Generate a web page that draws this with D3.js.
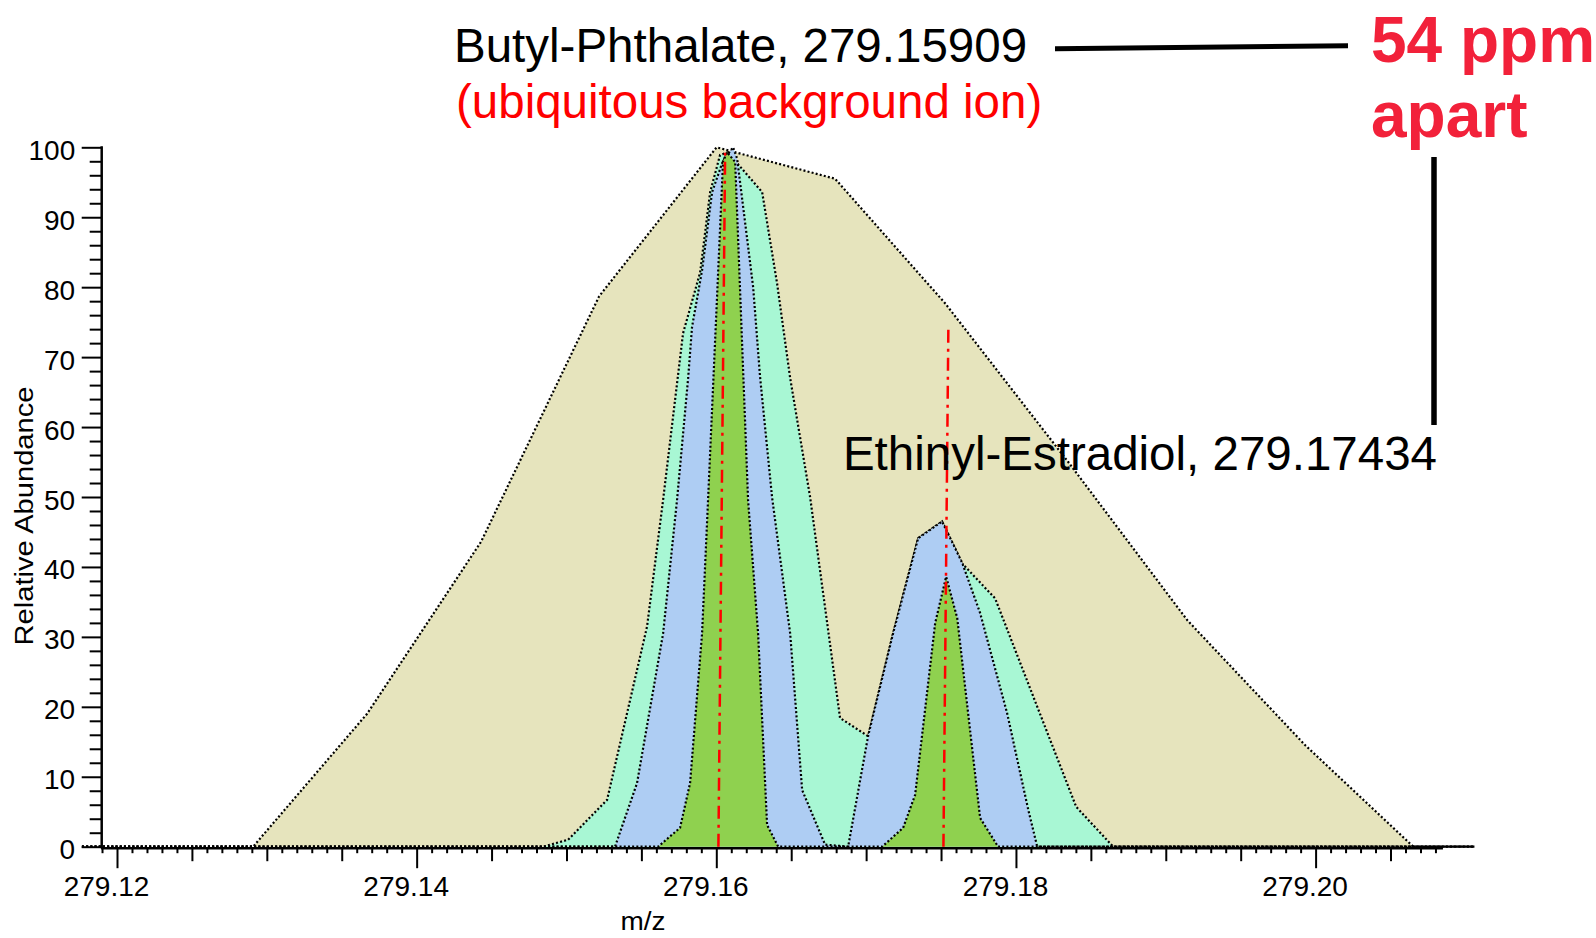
<!DOCTYPE html>
<html>
<head>
<meta charset="utf-8">
<script src="https://cdn.jsdelivr.net/npm/d3@7"></script>
<style>
body{margin:0;background:#fff;}
svg{display:block;font-family:"Liberation Sans",Arial,Helvetica,sans-serif;}
</style>
</head>
<body>
<div id="vis-container"></div>
<script>
// traces: m/z and relative abundance
khakiMz = [279.11766, 279.12908, 279.13669, 279.14430, 279.15218, 279.16002, 279.16793, 279.17527, 279.18349, 279.19143, 279.19931, 279.20652, 279.21059]
khakiAb = [0, 0, 19, 43.6, 78.7, 100, 95.5, 77.7, 55, 32.4, 14.5, 0, 0]

mintMz = [279.11766, 279.14844, 279.15011, 279.15271, 279.15538, 279.15645, 279.15778, 279.15892, 279.15959, 279.16025, 279.16079, 279.16112, 279.16306, 279.16406, 279.16493, 279.16626, 279.16826, 279.17013, 279.17180, 279.17347, 279.17507, 279.17641, 279.17861, 279.18402, 279.18649, 279.21059]
mintAb = [0, 0, 1, 6.7, 31.5, 49.6, 73.4, 82.1, 93.6, 98.9, 99.3, 98.4, 93.6, 80.5, 67, 50, 18.4, 15.8, 30.5, 44.1, 46.5, 40.5, 35.5, 5.7, 0, 0]

blueMz = [279.11766, 279.15324, 279.15471, 279.15645, 279.15738, 279.15812, 279.15838, 279.15905, 279.15972, 279.16045, 279.16112, 279.16139, 279.16246, 279.16292, 279.16372, 279.16493, 279.16573, 279.16726, 279.16880, 279.17013, 279.17180, 279.17347, 279.17507, 279.17641, 279.17761, 279.17941, 279.18082, 279.18142, 279.21059]
blueAb = [0, 0, 9.1, 30.5, 49.6, 67, 74.3, 82.4, 93.6, 98.1, 100, 98.4, 80, 67.2, 50, 30.5, 8.1, 0.3, 0, 15.8, 30.5, 44.1, 46.5, 40.6, 33.4, 19.1, 5.3, 0, 0]

greenMz = [279.11766, 279.15612, 279.15758, 279.15825, 279.15905, 279.15945, 279.16045, 279.16072, 279.16126, 279.16212, 279.16279, 279.16339, 279.16413, 279.17107, 279.17247, 279.17327, 279.17461, 279.17534, 279.17608, 279.17761, 279.17881, 279.21059]
greenAb = [0, 0, 2.7, 9.1, 30.5, 49.6, 98, 99.3, 97.9, 49.6, 30.5, 3.1, 0, 0, 2.7, 7.4, 32, 38.6, 32.7, 4.1, 0, 0]

seriesColors = ["#e6e4bd", "#a8f7d4", "#aecdf3", "#8fd14f"]

// red dash-dot markers (m/z at foot, m/z at top, top abundance)
markerBaseMz = [279.16014, 279.17516]
markerTopMz = [279.16059, 279.17549]
markerTop = [99.5, 74.5]

xMajorTicks = [279.12, 279.14, 279.16, 279.18, 279.20]
xTickLabels = ["279.12", "279.14", "279.16", "279.18", "279.20"]
yMajorTicks = [0, 10, 20, 30, 40, 50, 60, 70, 80, 90, 100]

chart = {
  "width": 1596,
  "height": 938,
  "scale": {
    "x": d3.scaleLinear().domain([279.12, 279.20]).range([117, 1315.6]),
    "y": d3.scaleLinear().domain([0, 100]).range([846.7, 147.3])
  }
}

function drawAxes(svg){
  let x = chart.scale.x, y = chart.scale.y;
  let xMedium = d3.range(119, 209).filter(i => i % 5 == 0 && i % 20 != 0).map(i => 279 + i / 1000);
  let xMinor = d3.range(119, 209).filter(i => i % 5 != 0).map(i => 279 + i / 1000);
  let axisY = y(0) + 1.5;

  let g = svg.append("g").attr("id", "x-axis").attr("transform", "translate(0," + axisY + ")");
  g.append("g").call(d3.axisBottom(x).tickValues(xMinor).tickSize(5).tickFormat(""));
  g.append("g").call(d3.axisBottom(x).tickValues(xMedium).tickSize(13).tickFormat(""));
  g.append("g").attr("class", "x-major").call(d3.axisBottom(x).tickValues(xMajorTicks).tickSize(20).tickFormat((d, i) => xTickLabels[i]));
  g.selectAll(".domain").remove();
  g.selectAll("line").attr("stroke", "#000").attr("stroke-width", 2);
  g.selectAll("text").attr("y", 48).attr("dy", 0).attr("dx", -11)
    .style("font-size", "28px").attr("fill", "#000").style("font-family", null);
  g.append("line").attr("x1", x(279.119) - 1).attr("x2", x(279.2085)).attr("y1", 0).attr("y2", 0)
    .attr("stroke", "#000").attr("stroke-width", 2.5);

  let minorY = d3.range(0, 101, 2).filter(v => v % 10 != 0);
  let gy = svg.append("g").attr("id", "y-axis").attr("transform", "translate(101.7,0)");
  gy.append("g").call(d3.axisLeft(y).tickValues(minorY).tickSize(12).tickFormat(""));
  gy.append("g").call(d3.axisLeft(y).tickValues(yMajorTicks).tickSize(20).tickFormat(d3.format("d")));
  gy.selectAll(".domain").remove();
  gy.selectAll("line").attr("stroke", "#000").attr("stroke-width", 2);
  gy.selectAll("text").attr("x", -26.5).attr("dy", 12)
    .style("font-size", "28px").attr("fill", "#000").style("font-family", null);
  gy.append("line").attr("x1", 0).attr("x2", 0).attr("y1", y(100) - 1).attr("y2", axisY)
    .attr("stroke", "#000").attr("stroke-width", 2.5);

  svg.append("text").attr("transform", "translate(33,516) rotate(-90) scale(1.12,1)")
    .attr("text-anchor", "middle").style("font-size", "26px").text("Relative Abundance");
  svg.append("text").attr("transform", "translate(643,930) scale(1.12,1)")
    .attr("text-anchor", "middle").style("font-size", "25px").text("m/z");
}

function drawTraces(svg){
  let x = chart.scale.x, y = chart.scale.y;
  let traces = [[khakiMz, khakiAb], [mintMz, mintAb], [blueMz, blueAb], [greenMz, greenAb]];
  let area = d3.area().x(d => x(d[0])).y0(y(0)).y1(d => y(d[1]));
  let line = d3.line().x(d => x(d[0])).y(d => y(d[1]));

  let g = svg.append("g").attr("id", "traces-g");
  traces.forEach(function(t, i){
    let pts = t[0].map((m, j) => [m, t[1][j]]);
    g.append("path").datum(pts).attr("d", area).attr("fill", seriesColors[i]);
    g.append("path").datum(pts).attr("d", line).attr("fill", "none")
      .attr("stroke", "#000").attr("stroke-width", 2.2).attr("stroke-dasharray", "2,2.2");
  });

  for(i in markerBaseMz){
    g.append("line")
      .attr("x1", x(markerBaseMz[i])).attr("y1", y(0))
      .attr("x2", x(markerTopMz[i])).attr("y2", y(markerTop[i]))
      .attr("stroke", "#ff0000").attr("stroke-width", 2.5)
      .attr("stroke-dasharray", "13,6,3,6");
  }
}

function drawNotes(svg){
  svg.append("text").attr("x", 454).attr("y", 62).style("font-size", "47.5px")
    .text("Butyl-Phthalate, 279.15909");
  svg.append("text").attr("x", 456).attr("y", 118).style("font-size", "47.5px").attr("fill", "#ff0000")
    .text("(ubiquitous background ion)");
  svg.append("text").attr("x", 1437).attr("y", 470).attr("text-anchor", "end").style("font-size", "47.5px")
    .text("Ethinyl-Estradiol, 279.17434");

  svg.append("line").attr("x1", 1055).attr("y1", 48.7).attr("x2", 1348).attr("y2", 45.7)
    .attr("stroke", "#000").attr("stroke-width", 5);
  svg.append("line").attr("x1", 1434).attr("y1", 157).attr("x2", 1434).attr("y2", 425)
    .attr("stroke", "#000").attr("stroke-width", 5.5);

  svg.append("text").attr("x", 1371).attr("y", 62).style("font-size", "64px").style("font-weight", "bold")
    .attr("fill", "#f2213a").text("54 ppm");
  svg.append("text").attr("x", 1371).attr("y", 137).style("font-size", "64px").style("font-weight", "bold")
    .attr("fill", "#f2213a").text("apart");
}

svg = d3.select("#vis-container").append("svg").attr("width", chart.width).attr("height", chart.height);
drawAxes(svg);
drawTraces(svg);
drawNotes(svg);
</script>
</body>
</html>
